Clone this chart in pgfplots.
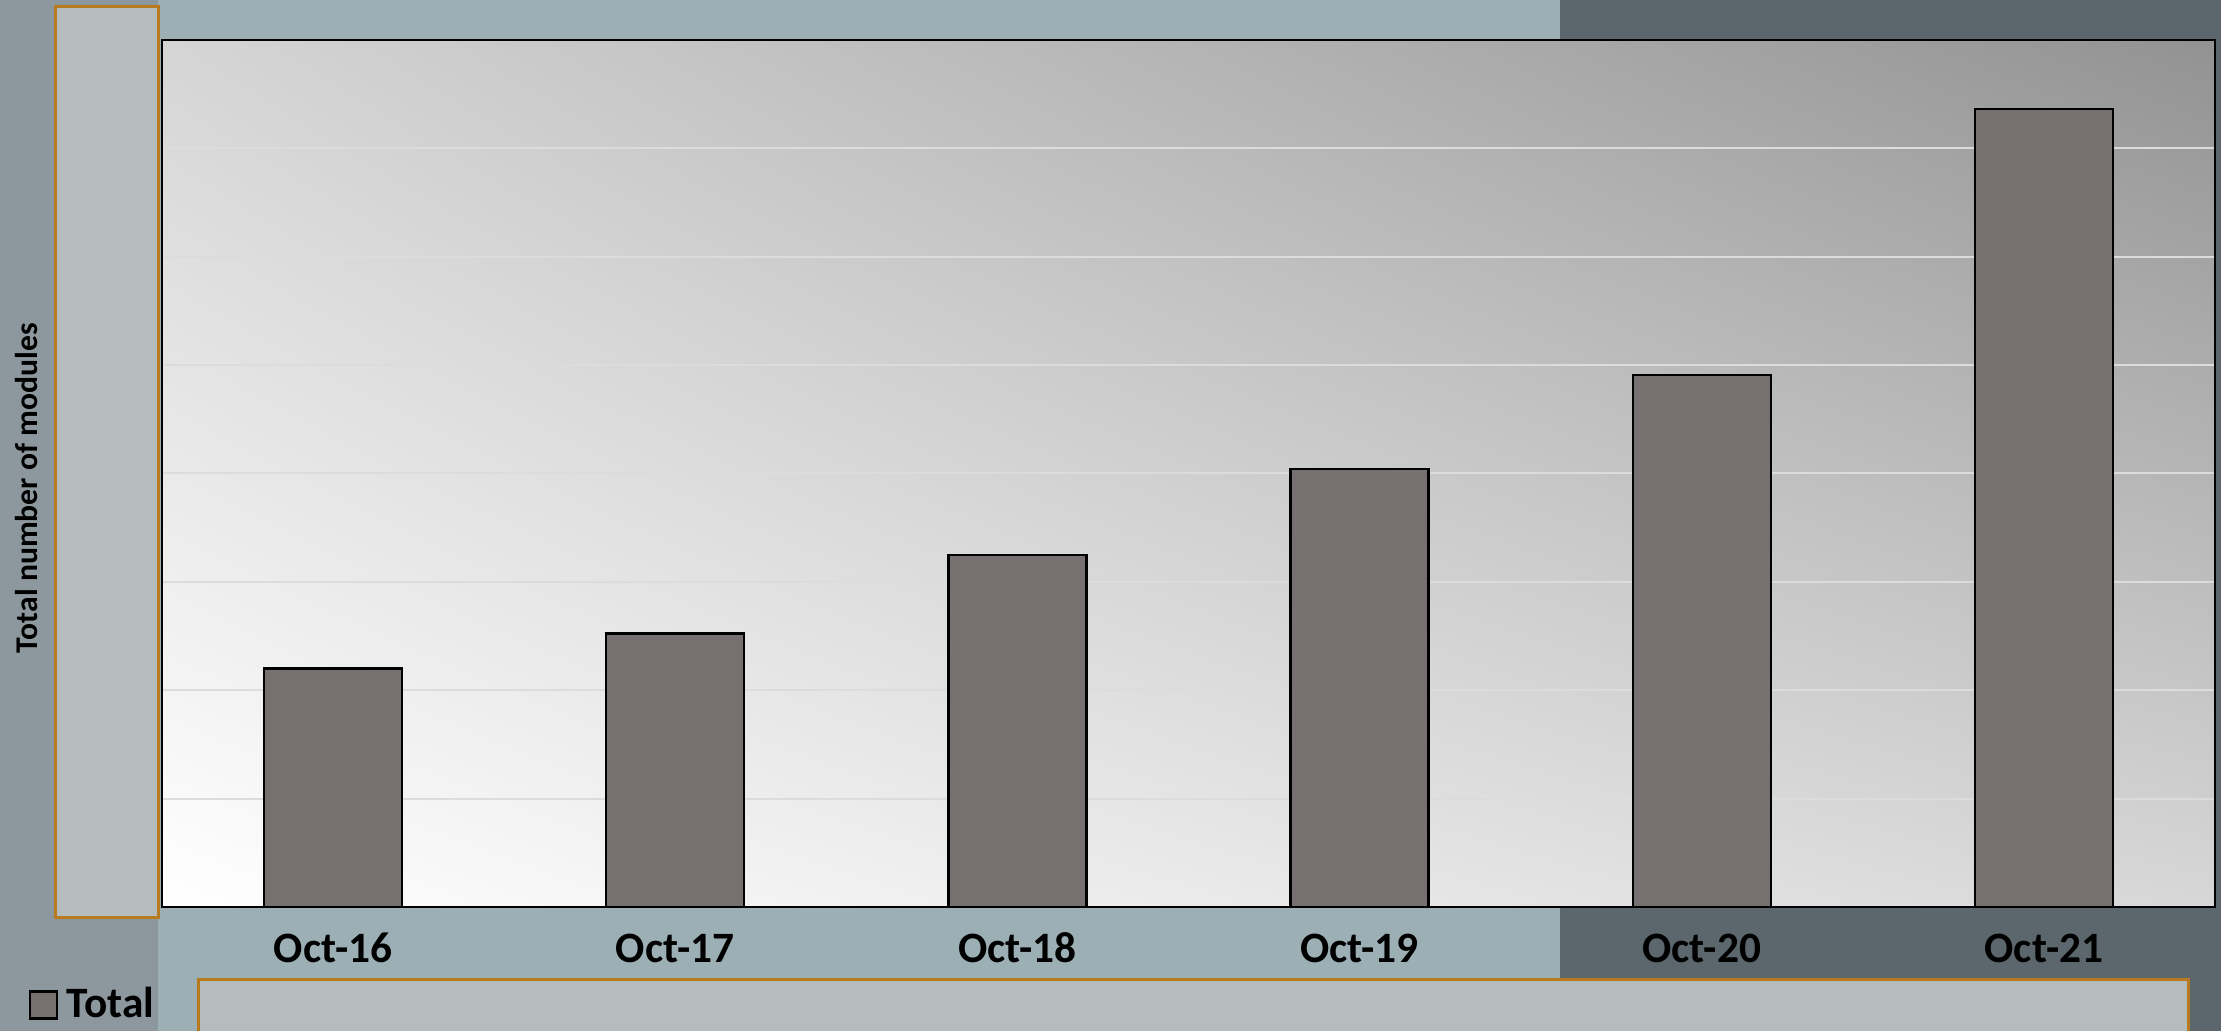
\documentclass[border=0pt]{standalone}
\usepackage{pgfplots}
\pgfplotsset{compat=1.18}
\usepackage{fontspec}
\setmainfont{Carlito}
\usetikzlibrary{shadings}
\definecolor{leftstrip}{HTML}{8D989E}
\definecolor{blueband}{HTML}{9CAFB5}
\definecolor{darkband}{HTML}{5B676D}
\definecolor{orangeb}{HTML}{B87A1E}
\definecolor{boxfill}{HTML}{B4BCBD}
\definecolor{barfill}{HTML}{767170}
\definecolor{gridc}{HTML}{DCDCDC}
\definecolor{cUL}{HTML}{D5D5D5}
\definecolor{cUR}{HTML}{929292}
\definecolor{cLR}{HTML}{D7D7D7}
\begin{document}
\begin{tikzpicture}
\useasboundingbox (0pt,0pt) rectangle (666.3pt,309.3pt);
\fill[leftstrip] (0pt,0pt) rectangle (47.4pt,309.3pt);
\fill[blueband] (47.4pt,0pt) rectangle (468pt,309.3pt);
\fill[darkband] (468pt,0pt) rectangle (666.3pt,309.3pt);
\filldraw[fill=boxfill, draw=orangeb, line width=0.9pt] (16.5pt,33.9pt) rectangle (47.4pt,307.2pt);
\filldraw[fill=boxfill, draw=orangeb, line width=0.9pt] (59.4pt,-3pt) rectangle (656.4pt,15.3pt);
\begin{axis}[
  at={(48.6pt,37.2pt)}, anchor=south west,
  scale only axis, width=615.9pt, height=260.1pt,
  xmin=-0.5, xmax=5.5, ymin=0, ymax=800,
  axis background/.style={shade, shading=bilinear interpolation,
     lower left=white, upper left=cUL, upper right=cUR, lower right=cLR},
  axis line style={black, line width=0.6pt},
  xtick={0,1,2,3,4,5},
  xticklabels={Oct-16,Oct-17,Oct-18,Oct-19,Oct-20,Oct-21},
  xticklabel style={font=\fontsize{13}{15}\selectfont\bfseries, anchor=center, yshift=-12.3pt},
  ytick={100,200,300,400,500,600,700},
  yticklabels={},
  major tick length=0pt,
  ymajorgrids, grid style={gridc, line width=0.6pt},
  ylabel={Total number of modules},
  ylabel style={at={(axis description cs:-0.0658,0.483)}, anchor=center, font=\fontsize{9.5}{11}\selectfont\bfseries},
  legend style={at={(axis description cs:-0.0653,-0.113)}, anchor=west, draw=none, fill=none,
     inner sep=0pt, column sep=2.7pt, font=\fontsize{13}{15}\selectfont\bfseries,
     nodes={inner sep=0pt}},
  legend image code/.code={\draw[#1] (0pt,-4.05pt) rectangle (8.1pt,4.05pt);},
]
\addplot[ybar, bar width=41.4pt, fill=barfill, draw=black, line width=0.7pt]
  coordinates {(0,220.2) (1,252.5) (2,325.0) (3,404.0) (4,491.0) (5,736.5)};
\addlegendentry{Total}
\end{axis}
\end{tikzpicture}
\end{document}
